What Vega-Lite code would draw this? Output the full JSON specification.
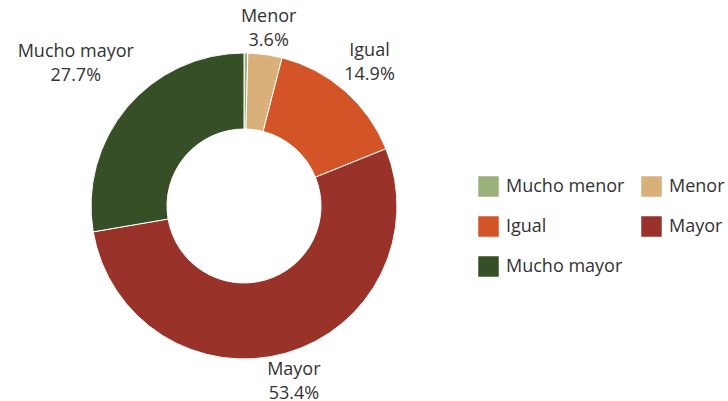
{
  "$schema": "https://vega.github.io/schema/vega-lite/v6.json",
  "width": 488,
  "height": 390,
  "autosize": {"type": "none"},
  "padding": {"top": 11, "left": 0, "right": 240, "bottom": 0},
  "background": "white",
  "config": {"view": {"stroke": null}, "font": "Open Sans"},
  "data": {
    "values": [
      {"categoria": "Mucho menor", "pct": 0.4, "orden": 1, "etiqueta": ""},
      {"categoria": "Menor", "pct": 3.6, "orden": 2, "etiqueta": "Menor\n3.6%"},
      {"categoria": "Igual", "pct": 14.9, "orden": 3, "etiqueta": "Igual\n14.9%"},
      {"categoria": "Mayor", "pct": 53.4, "orden": 4, "etiqueta": "Mayor\n53.4%"},
      {"categoria": "Mucho mayor", "pct": 27.7, "orden": 5, "etiqueta": "Mucho mayor\n27.7%"}
    ]
  },
  "encoding": {
    "theta": {"field": "pct", "type": "quantitative", "stack": true},
    "order": {"field": "orden", "type": "quantitative"}
  },
  "layer": [
    {
      "mark": {"type": "arc", "innerRadius": 77, "outerRadius": 153, "stroke": "white", "strokeWidth": 1},
      "encoding": {
        "color": {
          "field": "categoria",
          "type": "nominal",
          "sort": ["Mucho menor", "Menor", "Igual", "Mayor", "Mucho mayor"],
          "scale": {
            "domain": ["Mucho menor", "Menor", "Igual", "Mayor", "Mucho mayor"],
            "range": ["#9bb07a", "#d9b07a", "#d35426", "#993329", "#364f26"]
          },
          "legend": {
            "title": null,
            "orient": "none",
            "direction": "horizontal",
            "legendX": 478,
            "legendY": 165,
            "columns": 2,
            "gridAlign": "none",
            "symbolType": "square",
            "symbolSize": 420,
            "symbolStrokeWidth": 0,
            "labelFontSize": 18,
            "labelColor": "#333333",
            "labelFont": "Open Sans",
            "labelLimit": 300,
            "rowPadding": 19,
            "columnPadding": 16,
            "labelOffset": 7
          }
        }
      }
    },
    {
      "mark": {
        "type": "text",
        "radius": {"expr": "155 + 6.2 * max(length(split(datum.etiqueta, '\\n')[0]), 5) * abs(sin((datum.pct_start + datum.pct_end) / 100 * PI)) + 20 * abs(cos((datum.pct_start + datum.pct_end) / 100 * PI))"},
        "dy": -12,
        "fontSize": 18,
        "color": "#333333",
        "lineBreak": "\n",
        "lineHeight": 24,
        "font": "Open Sans",
        "align": "center",
        "baseline": "middle"
      },
      "encoding": {
        "text": {"field": "etiqueta", "type": "nominal"}
      }
    }
  ]
}
